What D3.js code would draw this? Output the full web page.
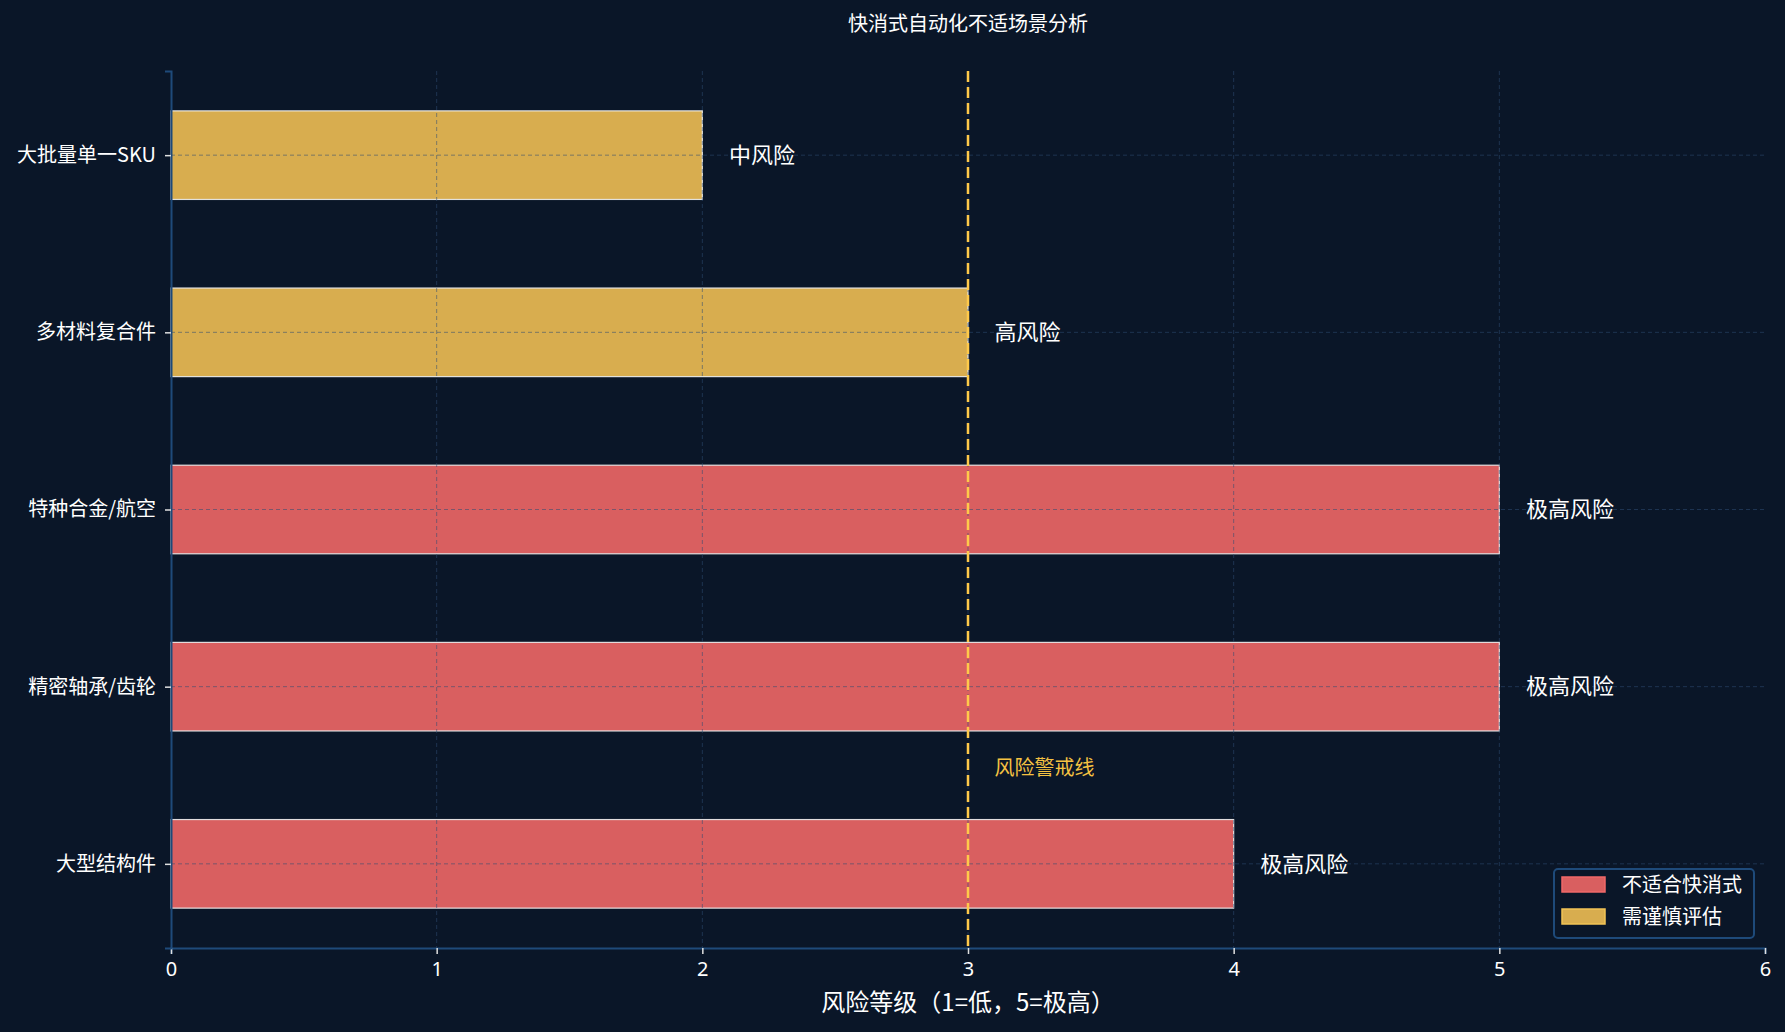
<!DOCTYPE html>
<html><head><meta charset="utf-8">
<script src="https://cdn.jsdelivr.net/npm/d3@7"></script>
<style>
html,body{margin:0;padding:0;background:#0a1628;}
svg{display:block;}
text{font-family:"Noto Sans CJK SC","Noto Sans",sans-serif;}
</style></head>
<body>
<svg id="c" width="1785" height="1032"></svg>
<script>
// data (bottom to top order as plotted)
const categories = ["大型结构件", "精密轴承/齿轮", "特种合金/航空", "多材料复合件", "大批量单一SKU"];
const riskValues = [4, 5, 5, 3, 2];
const riskLabels = ["极高风险", "极高风险", "极高风险", "高风险", "中风险"];
const groups = ["unfit", "unfit", "unfit", "caution", "caution"];
const legendNames = ["不适合快消式", "需谨慎评估"];
const xTicks = [0, 1, 2, 3, 4, 5, 6];
const warningValue = 3;
const warningText = "风险警戒线";
const titleText = "快消式自动化不适场景分析";
const xLabelText = "风险等级（1=低，5=极高）";

(function () {
const W = 1785, H = 1032;
const pL = 171, pR = 1765, pT = 71, pB = 948;
const svg = d3.select("#c");
svg.append("rect").attr("width", W).attr("height", H).attr("fill", "#0a1628");

const x = d3.scaleLinear().domain([0, 6]).range([pL, pR]);
const y = d3.scaleLinear().domain([-0.475, 4.475]).range([pB, pT]);
const barH = y(0) - y(0.5);

const fill = {unfit: "#d95f60", caution: "#d8ad4f"};
const edge = {unfit: "#f06868", caution: "#f2c455"};

// bars
svg.append("g").selectAll("rect").data(categories).join("rect")
  .attr("x", x(0))
  .attr("y", (d, i) => y(i + 0.25))
  .attr("width", (d, i) => x(riskValues[i]) - x(0))
  .attr("height", barH)
  .attr("fill", (d, i) => fill[groups[i]])
  .attr("stroke", "#f0f0f0")
  .attr("stroke-opacity", 0.9)
  .attr("stroke-width", 1.2);

// grid (drawn over bars)
const grid = svg.append("g");
grid.selectAll("line.v").data(xTicks.filter(t => t > 0 && t < 6)).join("line")
  .attr("class", "v")
  .attr("x1", d => x(d)).attr("x2", d => x(d))
  .attr("y1", pT).attr("y2", pB)
  .attr("stroke", "#2e4c72").attr("stroke-opacity", 0.55)
  .attr("stroke-width", 1).attr("stroke-dasharray", "4,3");
grid.selectAll("line.h").data(categories).join("line")
  .attr("class", "h")
  .attr("x1", pL).attr("x2", pR)
  .attr("y1", (d, i) => y(i)).attr("y2", (d, i) => y(i))
  .attr("stroke", "#2e4c72").attr("stroke-opacity", 0.55)
  .attr("stroke-width", 1).attr("stroke-dasharray", "4,3");

// warning line
svg.append("line")
  .attr("x1", x(warningValue)).attr("x2", x(warningValue))
  .attr("y1", pT).attr("y2", pB)
  .attr("stroke", "#ffc94a").attr("stroke-width", 2.5)
  .attr("stroke-dasharray", "11,5");
svg.append("text")
  .attr("x", x(warningValue + 0.1)).attr("y", y(0.54))
  .attr("dy", "0.35em")
  .attr("fill", "#f5c242").attr("font-size", 20)
  .text(warningText);

// value labels
svg.append("g").selectAll("text").data(categories).join("text")
  .attr("x", (d, i) => x(riskValues[i] + 0.1))
  .attr("y", (d, i) => y(i))
  .attr("dy", "0.35em")
  .attr("fill", "#ffffff").attr("font-size", 22)
  .text((d, i) => riskLabels[i]);

// axes
const xAxis = d3.axisBottom(x).tickValues(xTicks).tickFormat(d3.format("d")).tickSize(6).tickPadding(8);
const gx = svg.append("g").attr("transform", `translate(0,${pB})`).call(xAxis);
gx.select(".domain").attr("stroke", "#1e4a7a").attr("stroke-width", 2);
gx.selectAll(".tick line").attr("stroke", "#e0e0e0").attr("stroke-width", 1.5);
gx.selectAll(".tick text").attr("fill", "#ffffff").attr("font-size", 20)
  .style("font-family", "'Noto Sans','Noto Sans CJK SC',sans-serif");

const yAxis = d3.axisLeft(y).tickValues(d3.range(categories.length)).tickFormat(i => categories[i]).tickSize(6).tickPadding(9);
const gy = svg.append("g").attr("transform", `translate(${pL},0)`).call(yAxis);
gy.select(".domain").attr("stroke", "#1e4a7a").attr("stroke-width", 2);
gy.selectAll(".tick line").attr("stroke", "#e0e0e0").attr("stroke-width", 1.5);
gy.selectAll(".tick text").attr("fill", "#ffffff").attr("font-size", 20);

// title and x label
svg.append("text").attr("x", (pL + pR) / 2).attr("y", 24).attr("dy", "0.35em")
  .attr("text-anchor", "middle").attr("fill", "#ffffff").attr("font-size", 20)
  .text(titleText);
svg.append("text").attr("x", (pL + pR) / 2).attr("y", 1003).attr("dy", "0.35em")
  .attr("text-anchor", "middle").attr("fill", "#ffffff").attr("font-size", 24)
  .text(xLabelText);

// legend
const lg = svg.append("g");
lg.append("rect").attr("x", 1554).attr("y", 869).attr("width", 200).attr("height", 69)
  .attr("rx", 4).attr("fill", "#0a1628").attr("stroke", "#1e4a7a").attr("stroke-width", 2);
const keys = ["unfit", "caution"];
keys.forEach((k, i) => {
  lg.append("rect").attr("x", 1562).attr("y", 877 + i * 32).attr("width", 43).attr("height", 15)
    .attr("fill", fill[k]).attr("stroke", edge[k]).attr("stroke-width", 1.5);
  lg.append("text").attr("x", 1622).attr("y", 885 + i * 32).attr("dy", "0.35em")
    .attr("fill", "#ffffff").attr("font-size", 20).text(legendNames[i]);
});
})();
</script>
</body></html>
